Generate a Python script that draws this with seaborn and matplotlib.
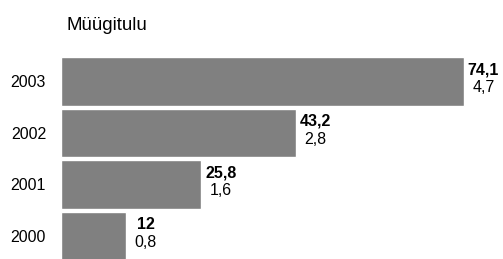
import pandas as pd
import seaborn as sns
from matplotlib import pyplot as plt

sns.set_style('white')
plt.rcParams['font.family'] = ['Liberation Sans', 'DejaVu Sans']
plt.rcParams['text.color'] = 'black'
plt.rcParams['ytick.color'] = 'black'

years = ['2003', '2002', '2001', '2000']
sales = [74.1, 43.2, 25.8, 12]
second = [4.7, 2.8, 1.6, 0.8]
sales_labels = ['74,1', '43,2', '25,8', '12']
second_labels = ['4,7', '2,8', '1,6', '0,8']

df = pd.DataFrame({'year': years, 'sales': sales})

fig = plt.figure(figsize=(5.03, 2.59), dpi=100)
ax = fig.add_axes([61 / 503, 0, 1 - 61 / 503, 1 - 55.75 / 259])

sns.barplot(data=df, x='sales', y='year', order=years, orient='h',
            color='#808080', saturation=1, width=0.95, ax=ax)

for i, (v, lab1, lab2) in enumerate(zip(sales, sales_labels, second_labels)):
    ax.annotate(lab1, (v, i), xytext=(14, 5.2), textcoords='offset points',
                ha='center', va='baseline', fontsize=11.5, fontweight='bold',
                color='black')
    ax.annotate(lab2, (v, i), xytext=(14, -7.8), textcoords='offset points',
                ha='center', va='baseline', fontsize=11.5, color='black')

ax.set_xlim(0, 81.25)
ax.set_ylim(3.447, -0.5)
ax.set_xlabel('')
ax.set_ylabel('')
ax.set_xticks([])
ax.tick_params(axis='y', length=0, pad=10.8, labelsize=11.5, labelcolor='black')
for s in ax.spines.values():
    s.set_visible(False)

fig.text(66 / 503, 1 - 30 / 259, 'Müügitulu', fontsize=13.5, va='baseline',
         color='black')

fig.savefig('out.png', dpi=100)
